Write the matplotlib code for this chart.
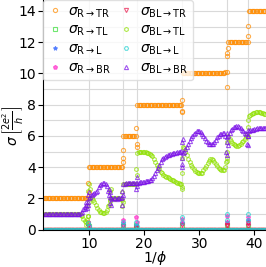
import matplotlib
matplotlib.use("Agg")
import matplotlib.pyplot as plt
import numpy as np

# sampling of 1/phi used for the curves
inv_phi = np.arange(1.75, 42.01, 0.25)

# sigma R->TR (quantised plateaus)
r_tr = [2.0] * 33 + [4.0] * 25 + [6.0] * 10 + [8.0] * 33 + [10.0] * 30 + [10.05, 10.1, 10.1] + [12.0] * 15 + [14.0] * 13
r_tr_x = [9.9, 10.0, 16.1, 16.15, 16.2, 18.6, 18.65, 18.7, 26.85, 26.9, 26.95, 35.0, 35.05, 35.1, 35.15, 38.85, 38.9]
r_tr_y = [3.0, 2.4, 4.3, 4.6, 5.1, 6.5, 5.5, 5.3, 8.3, 7.6, 7.5, 9.1, 11.1, 11.3, 11.6, 13.05, 12.4]

# sigma BL->BR
bl_br = ([1.0] * 27 + [1.05, 1.15, 1.3, 1.45, 1.6, 1.8]
         + [2.0, 2.1, 2.2, 2.3, 2.35, 2.4, 2.5, 2.7, 2.85, 2.95, 3.0, 3.0, 2.95, 2.8, 2.5,
            2.1, 2.0, 1.95, 2.0, 2.0, 1.95, 2.0, 2.0, 2.05, 2.1]
         + [2.9, 2.95, 3.0, 3.0, 3.0, 3.0, 3.0, 3.0, 3.0, 3.0]
         + [3.0, 3.0, 3.02, 3.05, 3.05, 3.07, 3.1, 3.1, 3.12, 3.15, 3.2, 3.3, 3.45, 3.6, 3.8,
            3.95, 4.15, 4.35, 4.5, 4.6, 4.68, 4.72, 4.76, 4.8, 4.83, 4.86, 4.88, 4.9, 4.92, 4.95,
            4.98, 5.0, 5.05]
         + [4.9, 5.0, 5.15, 5.3, 5.5, 5.7, 5.85, 6.0, 6.1, 6.2, 6.3, 6.3, 6.3, 6.25, 6.15,
            6.0, 5.85, 5.7, 5.6, 5.5, 5.45, 5.45, 5.5, 5.6, 5.75, 5.9, 6.0, 6.1, 6.15, 6.2,
            6.2, 6.0, 5.6]
         + [6.0, 6.2, 6.35, 6.45, 6.55, 6.6, 6.65, 6.65, 6.6, 6.5, 6.4, 6.3, 6.2, 6.1, 6.0]
         + [6.3, 6.35, 6.4, 6.4, 6.45, 6.45, 6.5, 6.5, 6.5, 6.5, 6.5, 6.5, 6.5])
bl_br_x = [9.3, 9.5, 9.6, 9.8, 9.9, 10.0, 13.6, 13.7, 13.8, 13.9, 14.0, 15.9, 16.0, 16.1, 18.6, 18.65,
           18.7, 26.8, 26.85, 26.9, 26.95, 27.0, 34.9, 35.0, 35.05, 35.1, 35.15, 38.7, 38.8, 38.85, 38.9]
bl_br_y = [1.3, 1.8, 1.4, 2.2, 1.6, 2.4, 2.6, 2.2, 1.7, 2.4, 1.6, 2.5, 1.6, 2.2, 2.6, 3.4,
           2.8, 4.2, 4.6, 4.0, 5.6, 5.8, 5.0, 5.9, 4.8, 6.2, 5.4, 5.5, 6.0, 5.4, 6.4]

# sigma BL->TL
bl_tl = ([1.0] * 27 + [0.95, 0.85, 0.7, 0.55, 0.5, 0.9]
         + [1.8, 2.0, 2.0, 1.9, 1.75, 1.55, 1.4, 1.25, 1.15, 1.1, 1.05, 1.05, 1.1, 1.25, 1.5,
            1.85, 2.0, 2.05, 2.0, 1.95, 2.0, 2.05, 2.0, 1.95, 1.9]
         + [2.95] * 10
         + [4.9, 5.0, 5.0, 5.0, 4.98, 4.97, 4.95, 4.92, 4.9, 4.85, 4.8, 4.7, 4.55, 4.35, 4.15,
            4.0, 3.85, 3.7, 3.6, 3.5, 3.45, 3.4, 3.35, 3.3, 3.25, 3.2, 3.15, 3.1, 3.05, 3.0,
            3.0, 2.95, 2.9]
         + [5.3, 5.2, 5.0, 4.8, 4.55, 4.35, 4.15, 4.0, 3.85, 3.75, 3.7, 3.65, 3.6, 3.6, 3.65,
            3.8, 3.95, 4.1, 4.25, 4.4, 4.5, 4.5, 4.45, 4.35, 4.2, 4.05, 3.95, 3.85, 3.8, 3.8,
            3.8, 4.0, 4.4]
         + [6.0, 5.8, 5.65, 5.55, 5.45, 5.4, 5.35, 5.35, 5.4, 5.5, 5.6, 5.7, 5.8, 5.9, 6.0]
         + [7.3, 7.35, 7.4, 7.45, 7.45, 7.5, 7.5, 7.5, 7.5, 7.45, 7.45, 7.4, 7.4])
bl_tl_x = [9.4, 9.6, 9.7, 9.8, 9.9, 10.0, 10.1, 13.7, 13.8, 13.9, 14.0, 15.9, 16.0, 16.1, 18.6, 18.65,
           26.8, 26.85, 26.9, 26.95, 34.9, 35.0, 35.05, 35.1, 38.7, 38.8, 38.9]
bl_tl_y = [0.3, 1.5, 0.6, 2.5, 0.9, 2.9, 2.6, 1.6, 2.5, 1.9, 2.6, 1.5, 2.4, 1.8, 3.9, 3.5,
           2.6, 3.6, 2.7, 4.6, 4.3, 5.0, 4.6, 5.6, 6.1, 6.6, 7.0]

# the other channels stay at zero apart from spikes at the transitions
baseline = [0.0] * len(inv_phi)
r_tl_x = [9.9, 10.0, 16.1, 18.6, 26.9, 35.0, 38.8]
r_tl_y = [0.4, 0.2, 0.2, 0.3, 0.2, 0.3, 0.3]
r_l_x = [9.9, 16.1, 18.6, 26.9, 35.0, 38.8]
r_l_y = [0.3, 0.4, 0.3, 0.4, 0.5, 0.6]
r_br_x = [9.9, 10.0, 16.1, 16.15, 18.6, 18.65, 26.9, 26.95, 35.0, 35.05, 38.8, 38.85]
r_br_y = [0.5, 0.2, 0.6, 0.3, 0.8, 0.5, 0.7, 0.4, 0.9, 0.5, 0.8, 0.4]
bl_tr_x = [9.9, 16.1, 18.6, 26.9, 35.0, 35.05, 38.8, 38.9]
bl_tr_y = [0.2, 0.2, 0.1, 0.3, 0.3, 0.2, 0.4, 0.2]
bl_l_x = [9.9, 10.0, 16.1, 16.15, 18.6, 18.65, 26.9, 26.95, 35.0, 35.05, 38.8, 38.85]
bl_l_y = [0.4, 0.2, 0.5, 0.3, 0.5, 0.2, 0.8, 0.5, 1.0, 0.6, 1.0, 0.6]

# positions of the plateau transitions (light vertical lines)
transitions = [10.0, 16.1, 18.7, 26.9, 35.1, 38.9]

series = [
    (r'$\sigma_{\rm R\to TR}$', r_tr, r_tr_x, r_tr_y, '#ff8c00', 'o', False),
    (r'$\sigma_{\rm R\to TL}$', baseline, r_tl_x, r_tl_y, '#33dd33', 's', False),
    (r'$\sigma_{\rm R\to L}$', baseline, r_l_x, r_l_y, '#3366ff', '*', True),
    (r'$\sigma_{\rm R\to BR}$', baseline, r_br_x, r_br_y, '#ff33cc', 'p', True),
    (r'$\sigma_{\rm BL\to TR}$', baseline, bl_tr_x, bl_tr_y, '#e8174b', 'v', False),
    (r'$\sigma_{\rm BL\to TL}$', bl_tl, bl_tl_x, bl_tl_y, '#8fe000', 'h', False),
    (r'$\sigma_{\rm BL\to L}$', baseline, bl_l_x, bl_l_y, '#1fcfcf', 'H', False),
    (r'$\sigma_{\rm BL\to BR}$', bl_br, bl_br_x, bl_br_y, '#7a10e8', '^', False),
]

fig = plt.figure(figsize=(2.66, 2.67), dpi=100)
ax = fig.add_axes([0.1635, 0.14, 0.8365, 0.86])

for t in transitions:
    ax.axvline(t, color='0.85', lw=0.8, zorder=0)

for label, ys, ex, ey, col, mk, filled in series:
    xs = np.concatenate([inv_phi, ex])
    yy = np.concatenate([ys, ey])
    ax.plot(xs, yy, linestyle='none', marker=mk, markersize=3.0,
            markeredgewidth=0.8, color=col, alpha=0.7,
            markerfacecolor=col if filled else 'none', label=label)

ax.set_xlim(1.75, 42.1)
ax.set_ylim(0, 14.7)
ax.set_yticks(range(0, 15, 2))
ax.set_yticks(range(1, 15, 2), minor=True)
ax.set_xticks([10, 20, 30, 40])
ax.tick_params(axis='y', which='minor', length=0)
ax.tick_params(labelsize=10, pad=2)
ax.tick_params(axis='x', pad=1.5)
ax.grid(axis='y', which='both', color='0.85', lw=0.8)
ax.set_axisbelow(True)
ax.spines['top'].set_visible(False)
ax.spines['right'].set_visible(False)

ax.set_xlabel(r'$1/\phi$', fontsize=10, labelpad=-1)
ax.set_ylabel(r'$\sigma\,\left[\frac{2e^2}{h}\right]$', fontsize=10)
ax.yaxis.set_label_coords(-0.085, 0.45)

ax.legend(loc='upper left', bbox_to_anchor=(0, 1), borderaxespad=0, ncol=2,
          fontsize=10, handlelength=1.0, handletextpad=0.5, columnspacing=0.6,
          labelspacing=0.25, borderpad=0.3, framealpha=0.8, edgecolor='0.85',
          fancybox=True)

fig.savefig('out.png', dpi=100)
